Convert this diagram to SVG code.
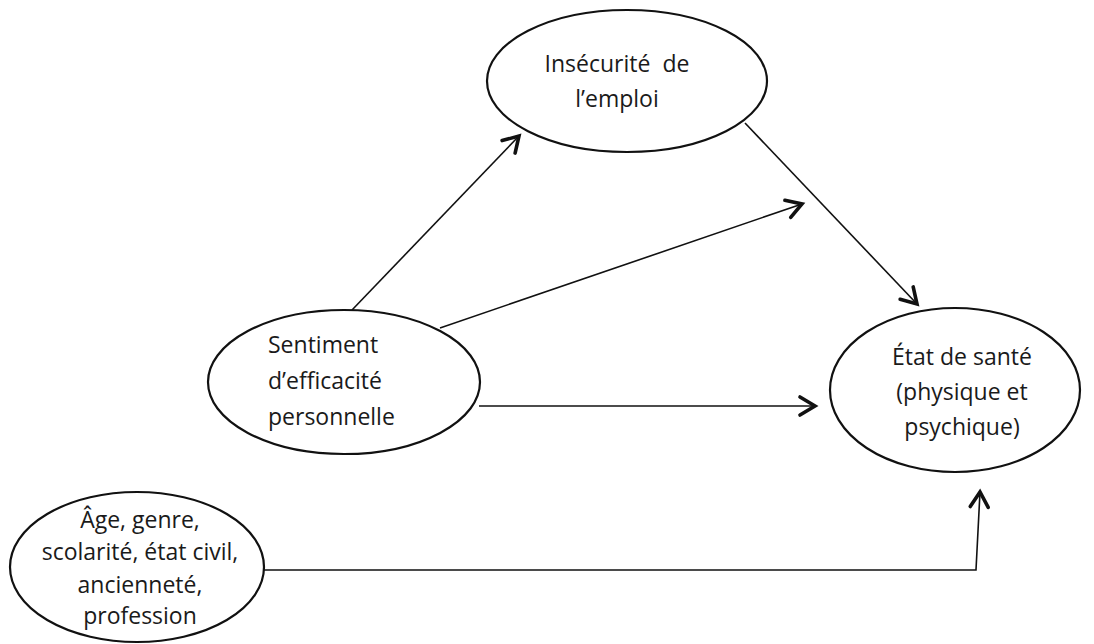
<svg xmlns="http://www.w3.org/2000/svg" width="1094" height="644" viewBox="0 0 1094 644">
<style>
.node{fill:#fff;stroke:#111;stroke-width:2.2}
.lbl{font-family:"Open Sans","Liberation Sans",sans-serif;font-size:23px;fill:#1a1a1a}
.c{text-anchor:middle}
.edge{fill:none;stroke:#111;stroke-width:1.6}
</style>
<defs>
<marker id="arr" markerUnits="userSpaceOnUse" markerWidth="30" markerHeight="30" viewBox="-20 -15 30 30" refX="0" refY="0" orient="auto" overflow="visible">
<path d="M-15,-9 L0,0 L-15,9" fill="none" stroke="#111" stroke-width="3.6" stroke-linecap="round" stroke-linejoin="miter"/>
</marker>
</defs>
<rect width="1094" height="644" fill="#fff"/>
<g id="connectors">
<line class="edge" x1="352" y1="310" x2="519" y2="136" marker-end="url(#arr)"/>
<line class="edge" x1="440" y1="328" x2="802" y2="204" marker-end="url(#arr)"/>
<line class="edge" x1="479" y1="406" x2="815" y2="406" marker-end="url(#arr)"/>
<line class="edge" x1="745" y1="123" x2="917" y2="304" marker-end="url(#arr)"/>
<polyline class="edge" points="263,570 976,570 980,492" marker-end="url(#arr)"/>
</g>
<g id="insecurite">
<ellipse class="node" cx="627" cy="81" rx="140" ry="71"/>
<text class="lbl c" x="617" y="72" xml:space="preserve">Insécurité  de</text>
<text class="lbl c" x="617" y="107">l’emploi</text>
</g>
<g id="sentiment">
<ellipse class="node" cx="344" cy="382" rx="136" ry="72"/>
<text class="lbl" x="268" y="353">Sentiment</text>
<text class="lbl" x="268" y="389">d’efficacité</text>
<text class="lbl" x="268" y="425">personnelle</text>
</g>
<g id="etat">
<ellipse class="node" cx="955" cy="390" rx="125" ry="82"/>
<text class="lbl c" x="962" y="365">État de santé</text>
<text class="lbl c" x="962" y="400">(physique et</text>
<text class="lbl c" x="962" y="435">psychique)</text>
</g>
<g id="age">
<ellipse class="node" cx="137" cy="567" rx="127" ry="75"/>
<text class="lbl c" x="140" y="528">Âge, genre,</text>
<text class="lbl c" x="140" y="560">scolarité, état civil,</text>
<text class="lbl c" x="140" y="593">ancienneté,</text>
<text class="lbl c" x="140" y="624">profession</text>
</g>
</svg>
